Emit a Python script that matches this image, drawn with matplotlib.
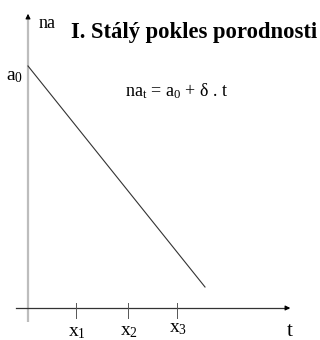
import matplotlib
matplotlib.use("Agg")
import matplotlib.pyplot as plt

# Data (pixel-like coordinates: origin at axis crossing, y up)
origin_x = 28
origin_y = 308
tick_x = [76, 128, 177]
tick_labels = [r"x$_1$", r"x$_2$", r"x$_3$"]
tick_label_y = [336, 335, 332]
line_t = [28, 205]
line_na = [66, 287]

plt.rcParams['font.family'] = ['Liberation Serif', 'DejaVu Serif']
plt.rcParams['mathtext.fontset'] = 'custom'
plt.rcParams['mathtext.rm'] = 'Liberation Serif'
plt.rcParams['mathtext.it'] = 'Liberation Serif'

fig = plt.figure(figsize=(3.2, 3.4), dpi=100)
ax = fig.add_axes([0, 0, 1, 1])
ax.set_xlim(0, 320)
ax.set_ylim(340, 0)
ax.axis('off')

# vertical axis (grey)
ax.plot([origin_x, origin_x], [322, 18], color='#bdbdbd', lw=1.6, solid_capstyle='butt')
ax.annotate('', xy=(origin_x, 11), xytext=(origin_x, 20),
            arrowprops=dict(arrowstyle='-|>', color='black', lw=0.8, mutation_scale=7))
# horizontal axis
ax.plot([16, 288], [origin_y, origin_y], color='#333333', lw=0.9)
ax.annotate('', xy=(293, origin_y), xytext=(284, origin_y),
            arrowprops=dict(arrowstyle='-|>', color='black', lw=0.8, mutation_scale=7))

# ticks
for tx in tick_x:
    ax.plot([tx, tx], [303, 318], color='#555555', lw=0.7)
for tx, lab, ly in zip(tick_x, tick_labels, tick_label_y):
    ax.text(tx + 1, ly, lab, ha='center', va='baseline', fontsize=14)

# the line
ax.plot(line_t, line_na, color='#333333', lw=0.8)

ax.text(290, 336, 't', ha='center', va='baseline', fontsize=15)
ax.text(15, 80, r'a$_0$', ha='center', va='baseline', fontsize=14)
ax.text(39, 28, 'na', ha='left', va='baseline', fontsize=13)
ax.text(71, 38, 'I. Stálý pokles porodnosti', ha='left', va='baseline',
        fontsize=16.3, fontweight='bold')
ax.text(125, 96, r'na$_\mathrm{t}$ = a$_0$ + δ . t', ha='left', va='baseline', fontsize=13)

fig.savefig('out.png', dpi=100)
